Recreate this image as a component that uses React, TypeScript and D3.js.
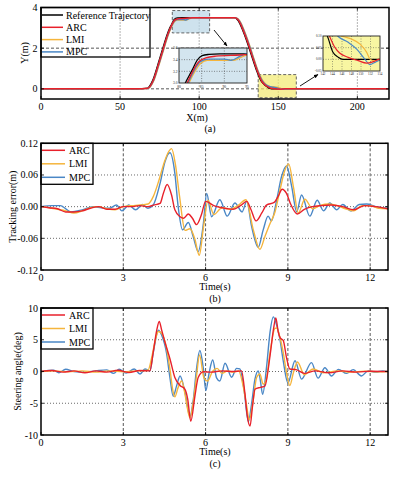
import React from "react";
import * as d3 from "d3";

// (a) lateral position Y(m) against distance X(m)
const refX = [0, 60, 67, 70.6, 73.8, 77, 79.4, 81.4, 82.9, 84, 85.1, 86.6, 89, 122, 123.9, 125.6, 127.6, 129.8, 132.9, 136.1, 139.3, 141.2, 142.2, 143.1, 144.1, 145.2, 146.2, 150, 220];
const refY = [0, 0, 0.03, 0.42, 1.18, 2.0, 2.6, 3.0, 3.22, 3.39, 3.47, 3.49, 3.5, 3.5, 3.42, 3.22, 2.85, 2.4, 1.67, 0.93, 0.36, 0.2, 0.14, 0.09, 0.03, 0.009, 0, 0, 0];
const arcX = [0, 60, 67.5, 71, 74.2, 77.4, 79.8, 81.8, 84.4, 85.9, 88.1, 93.4, 95.6, 98, 122.5, 124.3, 126, 128, 130.2, 133.3, 136.5, 139.7, 141.5, 143.4, 144.5, 145.5, 147.3, 149.4, 151.2, 152.6, 154, 158, 220];
const arcY = [0, 0, 0.03, 0.42, 1.18, 2.0, 2.6, 3.0, 3.37, 3.43, 3.46, 3.48, 3.49, 3.5, 3.5, 3.42, 3.22, 2.85, 2.4, 1.67, 0.93, 0.36, 0.2, 0.098, 0.051, 0.027, 0.0085, -0.0056, -0.016, -0.01, 0.001, 0, 0];
const lmiX = [0, 60, 67.9, 71.4, 74.6, 77.8, 80.2, 82.2, 84.8, 86.3, 91.9, 93.4, 95, 98, 123, 124.8, 126.5, 128.5, 130.7, 133.8, 137, 140.2, 142.5, 144.2, 146.2, 148, 149.8, 151.2, 151.9, 152.9, 154, 158, 220];
const lmiY = [0, 0, 0.03, 0.42, 1.18, 2.0, 2.6, 3.0, 3.34, 3.39, 3.39, 3.43, 3.48, 3.5, 3.5, 3.42, 3.22, 2.85, 2.4, 1.67, 0.93, 0.4, 0.2, 0.12, 0.098, 0.087, 0.065, 0.03, 0.001, -0.007, -0.003, 0, 0];
const mpcX = [0, 60, 67.7, 71.2, 74.4, 77.6, 80, 82, 84.8, 86.5, 90, 91.5, 93.5, 95, 122.8, 124.6, 126.3, 128.3, 130.5, 133.6, 136.8, 140, 142.5, 145.2, 147.3, 149.1, 150.8, 151.9, 152.9, 154, 158, 220];
const mpcY = [0, 0, 0.03, 0.42, 1.18, 2.0, 2.6, 3.0, 3.37, 3.41, 3.41, 3.39, 3.46, 3.5, 3.5, 3.42, 3.22, 2.85, 2.4, 1.67, 0.93, 0.38, 0.18, 0.098, 0.073, 0.044, 0.001, -0.023, -0.013, -0.004, 0, 0];

// (b) tracking error (m) against time (s)
const arcErrT = [0, 0.3, 0.6, 0.9, 1.2, 1.5, 1.8, 2.1, 2.4, 2.7, 3.0, 3.3, 3.6, 3.9, 4.1, 4.34, 4.46, 4.6, 4.76, 4.88, 5.07, 5.2, 5.37, 5.52, 5.67, 5.85, 6.0, 6.3, 6.6, 7.0, 7.3, 7.5, 7.65, 7.84, 8.05, 8.22, 8.5, 8.65, 8.79, 8.95, 9.1, 9.34, 9.6, 9.9, 10.2, 10.6, 11.0, 11.4, 11.8, 12.2, 12.65];
const arcErrV = [0, -0.002, -0.004, -0.01, -0.01, -0.008, -0.003, 0, -0.005, -0.005, 0, 0, 0.002, 0, 0.003, 0.006, 0.025, 0.042, 0.022, -0.006, -0.019, -0.022, -0.014, -0.022, -0.034, -0.015, 0.01, 0.002, -0.002, -0.005, 0.003, 0.01, -0.005, -0.027, -0.012, 0.003, 0.008, 0.02, 0.033, 0.025, 0.005, -0.014, -0.005, 0, 0.002, 0.003, 0, -0.006, 0.002, 0, -0.004];
const lmiErrT = [0, 0.3, 0.6, 0.9, 1.2, 1.5, 1.8, 2.1, 2.4, 2.7, 3.0, 3.3, 3.6, 3.9, 4.1, 4.3, 4.5, 4.65, 4.76, 4.9, 5.05, 5.25, 5.43, 5.6, 5.77, 5.92, 6.09, 6.3, 6.6, 6.9, 7.2, 7.47, 7.74, 7.98, 8.16, 8.35, 8.53, 8.71, 8.89, 9.03, 9.2, 9.38, 9.62, 9.9, 10.2, 10.5, 10.8, 11.1, 11.4, 11.7, 12.0, 12.3, 12.65];
const lmiErrV = [0, -0.002, -0.005, -0.008, -0.012, -0.008, -0.002, 0, -0.004, -0.006, 0, 0.002, 0.003, 0.005, 0.02, 0.05, 0.085, 0.104, 0.11, 0.08, 0.02, -0.045, -0.042, -0.06, -0.092, -0.04, 0.012, -0.015, -0.002, -0.005, 0.003, 0.013, -0.044, -0.081, -0.057, -0.032, -0.01, 0.031, 0.069, 0.081, 0.038, -0.012, 0.014, -0.004, 0.003, 0.005, 0.002, -0.004, -0.008, 0.002, 0.002, -0.003, -0.004];
const mpcErrT = [0, 0.4, 0.7, 1.1, 1.5, 1.9, 2.2, 2.5, 2.75, 2.95, 3.2, 3.45, 3.7, 3.9, 4.09, 4.34, 4.52, 4.7, 4.88, 5.0, 5.16, 5.37, 5.55, 5.73, 5.92, 6.04, 6.22, 6.52, 6.79, 7.07, 7.33, 7.5, 7.68, 7.92, 8.1, 8.28, 8.4, 8.59, 8.77, 8.95, 9.14, 9.32, 9.5, 9.8, 10.07, 10.3, 10.53, 10.78, 11.0, 11.3, 11.6, 11.87, 12.2, 12.65];
const mpcErrV = [0, 0.002, 0.002, -0.01, -0.006, 0, -0.002, -0.003, 0.003, -0.008, 0.003, -0.006, 0.004, -0.003, 0.003, 0.044, 0.085, 0.102, 0.063, 0, -0.044, -0.03, -0.057, -0.085, -0.032, 0.025, -0.019, 0.013, -0.018, 0.007, -0.01, 0.01, -0.038, -0.077, -0.044, -0.018, -0.027, 0.012, 0.057, 0.077, 0.038, -0.01, 0.022, -0.018, 0.012, -0.008, 0.007, -0.006, 0.004, -0.008, 0.004, 0.005, 0, -0.003];

// (c) steering angle (deg) against time (s)
const arcSteerT = [0, 0.4, 0.8, 1.2, 1.6, 2.0, 2.4, 2.8, 3.2, 3.6, 3.97, 4.09, 4.22, 4.31, 4.4, 4.52, 4.7, 4.88, 5.07, 5.25, 5.35, 5.46, 5.61, 5.73, 5.92, 6.2, 6.6, 7.0, 7.31, 7.43, 7.52, 7.62, 7.71, 7.8, 8.0, 8.16, 8.35, 8.47, 8.56, 8.65, 8.72, 8.83, 8.95, 9.07, 9.3, 9.6, 10.0, 10.5, 11.0, 11.5, 12.0, 12.65];
const arcSteerV = [0, 0.15, -0.1, 0.1, -0.2, 0.1, -0.1, 0.2, -0.15, 0.15, 0.1, 3.0, 6.5, 7.9, 6.5, 4.6, 2.0, -0.95, -2.2, -2.8, -4.4, -7.85, -3.9, -0.95, -0.05, -0.1, 0.1, 0, 0.1, -3.3, -7.0, -8.6, -5.5, -2.8, -2.5, -2.3, 2.5, 6.5, 8.45, 6.2, 5.3, 4.9, 2.2, 0.4, 0.3, -0.3, 0.1, -0.2, 0.1, -0.1, 0.05, 0];
const lmiSteerT = [0, 0.5, 1.0, 1.5, 2.0, 2.5, 3.0, 3.5, 3.9, 4.05, 4.18, 4.28, 4.4, 4.58, 4.7, 4.82, 4.88, 5.0, 5.13, 5.25, 5.37, 5.43, 5.55, 5.67, 5.78, 5.94, 6.07, 6.25, 6.42, 6.6, 6.8, 7.0, 7.2, 7.37, 7.5, 7.59, 7.74, 7.86, 7.98, 8.1, 8.2, 8.35, 8.53, 8.59, 8.71, 8.83, 8.95, 9.07, 9.2, 9.35, 9.6, 9.92, 10.3, 10.8, 11.3, 11.8, 12.3, 12.65];
const lmiSteerV = [0, 0.1, -0.05, 0.1, -0.1, 0.1, -0.05, 0.1, 0.2, 2.5, 5.2, 6.3, 6.0, 3.6, 0.4, -3.3, -4.0, -2.5, -1.5, -3.6, -6.5, -7.3, -4.9, -0.7, 2.6, -1.0, -1.5, 0, 0.5, -0.3, 0.1, -0.1, 0.1, -2.3, -5.5, -7.6, -4.4, -0.95, -0.4, -2.0, -1.5, 3.0, 6.8, 6.85, 5.4, 3.0, -0.15, -2.2, -0.2, 1.5, -0.5, 0.4, -0.2, 0.1, -0.1, 0.05, -0.05, 0];
const mpcSteerT = [0, 0.45, 0.65, 0.9, 1.2, 1.6, 2.0, 2.4, 2.65, 2.85, 3.1, 3.4, 3.61, 3.79, 3.97, 4.09, 4.28, 4.4, 4.58, 4.7, 4.82, 4.94, 5.07, 5.25, 5.43, 5.55, 5.67, 5.79, 5.92, 6.01, 6.13, 6.26, 6.4, 6.52, 6.71, 6.95, 7.13, 7.25, 7.4, 7.56, 7.68, 7.8, 7.92, 8.0, 8.08, 8.22, 8.35, 8.47, 8.59, 8.71, 8.83, 9.0, 9.26, 9.5, 9.86, 10.1, 10.35, 10.59, 10.84, 11.14, 11.38, 11.68, 11.93, 12.2, 12.45, 12.65];
const mpcSteerV = [0, 0.2, -0.2, 0.35, 0, -0.1, 0.1, 0.25, -0.3, 0.35, -0.25, 0.4, -0.4, 0.4, 0.1, 2.9, 6.5, 5.7, 2.8, -0.95, -3.9, -2.3, -0.7, -3.3, -7.1, -4.5, 0.4, 3.3, 0.4, -3.0, -0.2, 1.8, -1.0, -1.5, 1.3, -0.9, 0.5, 0.4, -2.8, -7.9, -5.0, -1.2, 0.1, -1.5, -3.6, 0.6, 6.2, 8.6, 7.3, 5.1, 1.7, -1.8, 1.7, -1.2, 1.4, -1.05, 0.6, -0.7, 0.34, -0.3, 0.3, -0.7, 0.1, -0.1, 0.1, 0];

// tick labels
const posXTicks = [0, 50, 100, 150, 200];
const posYTicks = [0, 2, 4];
const timeTicks = [0, 3, 6, 9, 12];
const errTicks = [-0.12, -0.06, 0, 0.06, 0.12];
const steerTicks = [-10, -5, 0, 5, 10];
const inset1XTicks = [80, 85, 90, 95];
const inset1YTicks = [3.0, 3.2, 3.4, 3.6];
const inset2XTicks = [142, 144, 146, 148, 150, 152, 154];
const inset2YTicks = [-0.05, 0, 0.05, 0.1];

const FONT = "'Liberation Serif', 'Times New Roman', serif";
const RED = "#e8212b";
const ORANGE = "#f5b53c";
const BLUE = "#4a87c6";
const GRID = "#444";

type Pt = [number, number];
const zip = (xs: number[], ys: number[]): Pt[] => xs.map((v, i) => [v, ys[i]] as Pt);

const makeLine = (sx: any, sy: any) =>
  d3
    .line<Pt>()
    .x((d) => sx(d[0]))
    .y((d) => sy(d[1]))
    .curve(d3.curveMonotoneX);

// inward ticks on all four sides, like matlab's box
const BoxTicks = ({ x, y, xt, yt, L, R, T, B, len = 3 }: any) => (
  <g stroke="#000" strokeWidth={0.8}>
    {xt.map((v: number) => (
      <g key={"x" + v}>
        <line x1={x(v)} x2={x(v)} y1={B} y2={B - len} />
        <line x1={x(v)} x2={x(v)} y1={T} y2={T + len} />
      </g>
    ))}
    {yt.map((v: number) => (
      <g key={"y" + v}>
        <line x1={L} x2={L + len} y1={y(v)} y2={y(v)} />
        <line x1={R} x2={R - len} y1={y(v)} y2={y(v)} />
      </g>
    ))}
  </g>
);

function PanelA() {
  const L = 41, R = 389, T = 7.5, B = 99;
  const x = d3.scaleLinear().domain([0, 220]).range([L, R]);
  const y = d3.scaleLinear().domain([-0.5, 4]).range([B, T]);
  const line = makeLine(x, y);

  const series = [
    { name: "Reference Trajectory", color: "#000", xs: refX, ys: refY, w: 1.2 },
    { name: "LMI", color: ORANGE, xs: lmiX, ys: lmiY, w: 1.5 },
    { name: "MPC", color: BLUE, xs: mpcX, ys: mpcY, w: 1.5 },
    { name: "ARC", color: RED, xs: arcX, ys: arcY, w: 1.5 },
  ];
  const legend = [series[0], series[3], series[1], series[2]];

  // zoomed windows
  const ix1 = d3.scaleLinear().domain([80, 95]).range([179, 247]);
  const iy1 = d3.scaleLinear().domain([3.0, 3.6]).range([83, 48]);
  const ix2 = d3.scaleLinear().domain([142, 154]).range([323, 380]);
  const iy2 = d3.scaleLinear().domain([-0.05, 0.1]).range([71, 36]);
  const l1 = makeLine(ix1, iy1);
  const l2 = makeLine(ix2, iy2);

  return (
    <g>
      <defs>
        <clipPath id="clipA">
          <rect x={L} y={T} width={R - L} height={B - T} />
        </clipPath>
        <clipPath id="clipI1">
          <rect x={179} y={48} width={68} height={35} />
        </clipPath>
        <clipPath id="clipI2">
          <rect x={323} y={36} width={57} height={35} />
        </clipPath>
      </defs>
      {/* grid */}
      {[50, 100, 150, 200].map((v) => (
        <line key={v} x1={x(v)} x2={x(v)} y1={T} y2={B} stroke={GRID} strokeWidth={0.8} strokeDasharray="1,2" />
      ))}
      {[0, 2].map((v) => (
        <line key={v} x1={L} x2={R} y1={y(v)} y2={y(v)} stroke={GRID} strokeWidth={0.9} strokeDasharray="3,2" />
      ))}
      {/* highlighted regions */}
      <rect x={x(83)} y={y(3.85)} width={x(106.6) - x(83)} height={y(2.75) - y(3.85)} fill="#b9d6e6" fillOpacity={0.7} stroke="#555" strokeWidth={0.9} strokeDasharray="3,2" />
      <rect x={x(137.3)} y={y(0.7)} width={x(161.4) - x(137.3)} height={y(-0.44) - y(0.7)} fill="#f2ea6e" fillOpacity={0.7} stroke="#555" strokeWidth={0.9} strokeDasharray="3,2" />
      <g clipPath="url(#clipA)">
        {series.map((s) => (
          <path key={s.name} d={line(zip(s.xs, s.ys)) || ""} fill="none" stroke={s.color} strokeWidth={s.w} />
        ))}
      </g>

      {/* inset 1 */}
      <rect x={179} y={48} width={68} height={35} fill="#d3e5ef" />
      {[85, 90].map((v) => (
        <line key={v} x1={ix1(v)} x2={ix1(v)} y1={48} y2={83} stroke={GRID} strokeWidth={0.6} strokeDasharray="1,1.5" />
      ))}
      {[3.2, 3.4].map((v) => (
        <line key={v} x1={179} x2={247} y1={iy1(v)} y2={iy1(v)} stroke={GRID} strokeWidth={0.6} strokeDasharray="1,1.5" />
      ))}
      <g clipPath="url(#clipI1)">
        {series.map((s) => (
          <path key={s.name} d={l1(zip(s.xs, s.ys)) || ""} fill="none" stroke={s.color} strokeWidth={1.3} />
        ))}
      </g>
      <rect x={179} y={48} width={68} height={35} fill="none" stroke="#222" strokeWidth={0.9} />
      <g fontSize={3.6} fill="#222">
        {inset1XTicks.map((v) => (
          <text key={v} x={ix1(v)} y={87.5} textAnchor="middle">{v}</text>
        ))}
        {inset1YTicks.map((v) => (
          <text key={v} x={177.5} y={iy1(v) + 1.2} textAnchor="end">{v.toFixed(1)}</text>
        ))}
      </g>

      {/* inset 2 */}
      <rect x={323} y={36} width={57} height={35} fill="#f8f6a2" />
      {inset2XTicks.slice(1, -1).map((v) => (
        <line key={v} x1={ix2(v)} x2={ix2(v)} y1={36} y2={71} stroke={GRID} strokeWidth={0.5} strokeDasharray="1,1.5" />
      ))}
      {[0, 0.05].map((v) => (
        <line key={v} x1={323} x2={380} y1={iy2(v)} y2={iy2(v)} stroke={GRID} strokeWidth={0.5} strokeDasharray="1,1.5" />
      ))}
      <g clipPath="url(#clipI2)">
        {series.map((s) => (
          <path key={s.name} d={l2(zip(s.xs, s.ys)) || ""} fill="none" stroke={s.color} strokeWidth={1.2} />
        ))}
      </g>
      <rect x={323} y={36} width={57} height={35} fill="none" stroke="#222" strokeWidth={0.9} />
      <g fontSize={3.2} fill="#222">
        {inset2XTicks.map((v) => (
          <text key={v} x={ix2(v)} y={75} textAnchor="middle">{v}</text>
        ))}
        {inset2YTicks.map((v) => (
          <text key={v} x={321.5} y={iy2(v) + 1.1} textAnchor="end">{v.toFixed(2)}</text>
        ))}
      </g>

      {/* arrows */}
      <line x1={214} y1={30} x2={227} y2={46} stroke="#000" strokeWidth={0.9} markerEnd="url(#arrowHead)" />
      <line x1={300} y1={86} x2={318} y2={74.5} stroke="#000" strokeWidth={0.9} markerEnd="url(#arrowHead)" />

      {/* legend (no fill, grid shows through) */}
      <rect x={L} y={T} width={109} height={49.5} fill="none" stroke="#000" strokeWidth={1.3} />
      {legend.map((s, i) => (
        <g key={s.name}>
          <line x1={42} x2={63} y1={15 + i * 12.3} y2={15 + i * 12.3} stroke={s.color} strokeWidth={1.5} />
          <text x={66} y={15 + i * 12.3} dy="0.35em" fontSize={10}>{s.name}</text>
        </g>
      ))}

      <rect x={L} y={T} width={R - L} height={B - T} fill="none" stroke="#000" strokeWidth={1.5} />
      <BoxTicks x={x} y={y} xt={posXTicks} yt={posYTicks} L={L} R={R} T={T} B={B} />
      <g fontSize={10}>
        {posXTicks.map((v) => (
          <text key={v} x={x(v)} y={B + 11} textAnchor="middle">{v}</text>
        ))}
        {posYTicks.map((v) => (
          <text key={v} x={37.5} y={y(v)} dy="0.35em" textAnchor="end">{v}</text>
        ))}
        <text x={197} y={120.5} textAnchor="middle">X(m)</text>
        <text transform={`translate(28,53) rotate(-90)`} textAnchor="middle">Y(m)</text>
        <text x={210} y={132} textAnchor="middle">(a)</text>
      </g>
    </g>
  );
}

function TimePanel({ id, T, B, yDomain, yTicks, yFmt, yLabel, yLabelX, caption, series }: any) {
  const L = 41, R = 388;
  const x = d3.scaleLinear().domain([0, 12.65]).range([L, R]);
  const y = d3.scaleLinear().domain(yDomain).range([B, T]);
  const line = makeLine(x, y);
  const legend = [series[2], series[1], series[0]];
  return (
    <g>
      <defs>
        <clipPath id={id}>
          <rect x={L} y={T} width={R - L} height={B - T} />
        </clipPath>
      </defs>
      {[3, 6, 9, 12].map((v) => (
        <line key={v} x1={x(v)} x2={x(v)} y1={T} y2={B} stroke={GRID} strokeWidth={0.9} strokeDasharray="3,2" />
      ))}
      {yTicks.slice(1, -1).map((v: number) => (
        <line key={v} x1={L} x2={R} y1={y(v)} y2={y(v)} stroke={GRID} strokeWidth={0.8} strokeDasharray="1,2" />
      ))}
      <g clipPath={`url(#${id})`}>
        {series.map((s: any) => (
          <path key={s.name} d={line(zip(s.t, s.v)) || ""} fill="none" stroke={s.color} strokeWidth={1.4} />
        ))}
      </g>
      <rect x={L} y={T} width={52} height={41} fill="#fff" stroke="#000" strokeWidth={1.3} />
      {legend.map((s: any, i: number) => (
        <g key={s.name}>
          <line x1={42} x2={65} y1={T + 7 + i * 13.5} y2={T + 7 + i * 13.5} stroke={s.color} strokeWidth={1.5} />
          <text x={69} y={T + 7 + i * 13.5} dy="0.35em" fontSize={10}>{s.name}</text>
        </g>
      ))}
      <rect x={L} y={T} width={R - L} height={B - T} fill="none" stroke="#000" strokeWidth={1.5} />
      <BoxTicks x={x} y={y} xt={timeTicks} yt={yTicks} L={L} R={R} T={T} B={B} />
      <g fontSize={10}>
        {timeTicks.map((v) => (
          <text key={v} x={x(v)} y={B + 10.5} textAnchor="middle">{v}</text>
        ))}
        {yTicks.map((v: number) => (
          <text key={v} x={38} y={y(v)} dy="0.35em" textAnchor="end">{yFmt(v)}</text>
        ))}
        <text x={215} y={B + 20} textAnchor="middle">Time(s)</text>
        <text transform={`translate(${yLabelX},${(T + B) / 2}) rotate(-90)`} textAnchor="middle">{yLabel}</text>
        <text x={215} y={B + 32} textAnchor="middle">{caption}</text>
      </g>
    </g>
  );
}

export default function App() {
  const errSeries = [
    { name: "MPC", color: BLUE, t: mpcErrT, v: mpcErrV },
    { name: "LMI", color: ORANGE, t: lmiErrT, v: lmiErrV },
    { name: "ARC", color: RED, t: arcErrT, v: arcErrV },
  ];
  const steerSeries = [
    { name: "MPC", color: BLUE, t: mpcSteerT, v: mpcSteerV },
    { name: "LMI", color: ORANGE, t: lmiSteerT, v: lmiSteerV },
    { name: "ARC", color: RED, t: arcSteerT, v: arcSteerV },
  ];
  return (
    <svg
      width={399}
      height={479}
      style={{ position: "absolute", left: 0, top: 0, background: "#fff" }}
      fontFamily={FONT}
    >
      <defs>
        <marker id="arrowHead" viewBox="0 0 10 10" refX="9" refY="5" markerWidth="5" markerHeight="5" orient="auto">
          <path d="M0,1 L10,5 L0,9 z" fill="#000" />
        </marker>
      </defs>
      <PanelA />
      <TimePanel
        id="clipB"
        T={143.3}
        B={270}
        yDomain={[-0.12, 0.12]}
        yTicks={errTicks}
        yFmt={(v: number) => v.toFixed(2)}
        yLabel="Tracking error(m)"
        yLabelX={15.5}
        caption="(b)"
        series={errSeries}
      />
      <TimePanel
        id="clipC"
        T={308}
        B={435}
        yDomain={[-10, 10]}
        yTicks={steerTicks}
        yFmt={(v: number) => String(v)}
        yLabel="Steering angle(deg)"
        yLabelX={21}
        caption="(c)"
        series={steerSeries}
      />
    </svg>
  );
}
